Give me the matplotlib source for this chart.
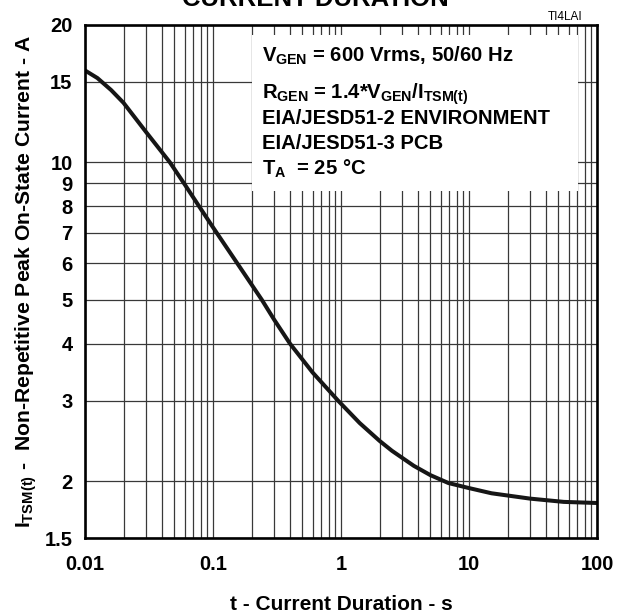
import matplotlib
matplotlib.use('Agg')
import matplotlib.pyplot as plt
from matplotlib.patches import Rectangle
from matplotlib.ticker import FixedLocator, NullFormatter, LogLocator

plt.rcParams['font.family'] = ['Liberation Sans', 'DejaVu Sans']
plt.rcParams['font.weight'] = 'bold'
plt.rcParams['axes.labelweight'] = 'bold'
plt.rcParams['mathtext.fontset'] = 'custom'
plt.rcParams['mathtext.rm'] = 'Liberation Sans:bold'
plt.rcParams['mathtext.it'] = 'Liberation Sans:bold'
plt.rcParams['mathtext.bf'] = 'Liberation Sans:bold'

# curve
t_s = [0.01, 0.0125, 0.016, 0.02, 0.03, 0.046, 0.06, 0.078, 0.10, 0.155, 0.24,
       0.30, 0.40, 0.6, 0.95, 1.4, 2.0, 2.5, 3.7, 5.0, 6.9, 10, 15, 30, 55, 100]
i_tsm = [15.9, 15.3, 14.4, 13.5, 11.65, 10.0, 8.95, 8.0, 7.2, 6.0, 5.0,
         4.52, 4.0, 3.46, 3.0, 2.68, 2.45, 2.33, 2.16, 2.06, 1.98, 1.93, 1.88,
         1.83, 1.80, 1.79]

y_ticks = [1.5, 2, 3, 4, 5, 6, 7, 8, 9, 10, 15, 20]
y_labels = ['1.5', '2', '3', '4', '5', '6', '7', '8', '9', '10', '15', '20']
x_ticks = [0.01, 0.1, 1, 10, 100]
x_labels = ['0.01', '0.1', '1', '10', '100']

notes = [r'$V_{GEN}$ = 600 Vrms, 50/60 Hz',
         r'$R_{GEN}$ = 1.4*$V_{GEN}$/$I_{TSM(t)}$',
         'EIA/JESD51-2 ENVIRONMENT',
         'EIA/JESD51-3 PCB',
         r'$T_{A}$  = 25 °C']

fig = plt.figure(figsize=(6.17, 6.14), dpi=100)
ax = fig.add_axes([85/617, 76/614, 512/617, 513/614])

ax.plot(t_s, i_tsm, color='#161616', lw=2.9, zorder=5, solid_capstyle='butt',
        solid_joinstyle='round')

ax.set_xscale('log')
ax.set_yscale('log')
ax.set_xlim(0.01, 100)
ax.set_ylim(1.5, 20)

ax.yaxis.set_major_locator(FixedLocator(y_ticks))
ax.set_yticklabels(y_labels)
ax.yaxis.set_minor_locator(FixedLocator([]))
ax.yaxis.set_minor_formatter(NullFormatter())
ax.xaxis.set_major_locator(FixedLocator(x_ticks))
ax.set_xticklabels(x_labels)
ax.xaxis.set_minor_locator(LogLocator(base=10, subs=range(2, 10)))
ax.xaxis.set_minor_formatter(NullFormatter())

ax.tick_params(which='both', length=0, labelsize=14.5)
ax.tick_params(axis='x', pad=12)
ax.tick_params(axis='y', pad=9)

ax.grid(True, which='both', axis='x', color='#383838', lw=0.9)
ax.grid(True, which='major', axis='y', color='#383838', lw=0.9)
ax.set_axisbelow(True)

for sp in ax.spines.values():
    sp.set_linewidth(1.9)
    sp.set_zorder(6)

# white box behind the notes
ax.add_patch(Rectangle((0.326, 0.676), 0.637, 0.304, transform=ax.transAxes,
                       facecolor='white', edgecolor='none', zorder=3))

note_y = [0.929, 0.857, 0.807, 0.758, 0.709]
for txt, yy in zip(notes, note_y):
    ax.text(0.346, yy, txt, transform=ax.transAxes, fontsize=14.6,
            fontweight='bold', va='baseline', ha='left', zorder=4)

ax.set_xlabel('t - Current Duration - s', fontsize=15, fontweight='bold',
              labelpad=15)
ax.set_ylabel(r'$I_{TSM(t)}$ -  Non-Repetitive Peak On-State Current - A',
              fontsize=15.2, fontweight='bold', labelpad=4)

fig.text(315/617, 1 - 6/614, 'CURRENT DURATION', ha='center', va='baseline',
         fontsize=18.5, fontweight='bold')
fig.text(582/617, 1 - 20/614, 'TI4LAI', ha='right', va='baseline',
         fontsize=8.5, fontweight='normal')

fig.savefig('out.png', dpi=100)
